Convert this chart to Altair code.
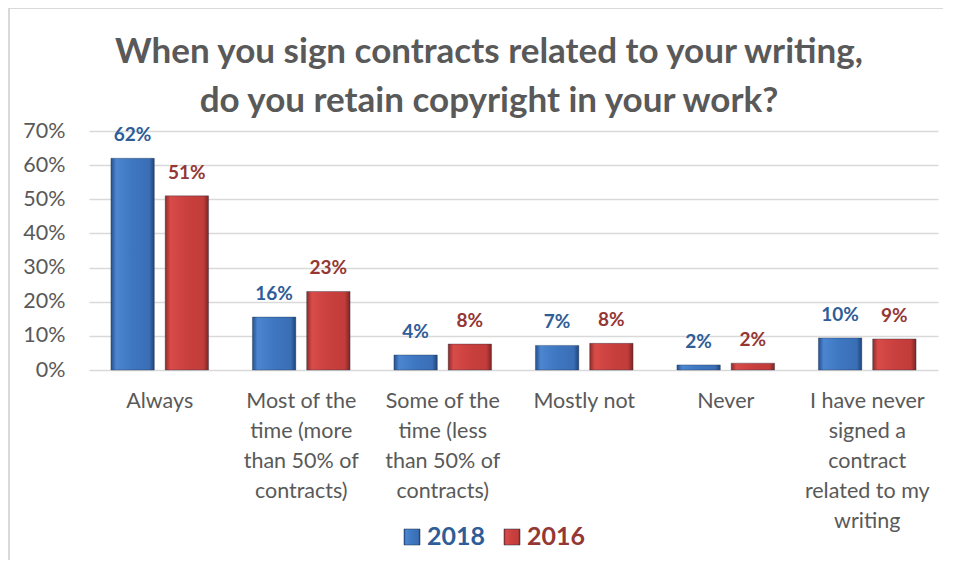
import json
import altair as alt
import pandas as pd

title_lines = [
    "When you sign contracts related to your writing,",
    "do you retain copyright in your work?",
]
categories = [
    "Always",
    "Most of the time (more than 50% of contracts)",
    "Some of the time (less than 50% of contracts)",
    "Mostly not",
    "Never",
    "I have never signed a contract related to my writing",
]
category_lines = [
    ["Always"],
    ["Most of the", "time (more", "than 50% of", "contracts)"],
    ["Some of the", "time (less", "than 50% of", "contracts)"],
    ["Mostly not"],
    ["Never"],
    ["I have never", "signed a", "contract", "related to my", "writing"],
]
series = ["2018", "2016"]
values_2018 = [0.62, 0.155, 0.044, 0.072, 0.015, 0.094]
values_2016 = [0.51, 0.23, 0.076, 0.078, 0.02, 0.091]
labels_2018 = ["62%", "16%", "4%", "7%", "2%", "10%"]
labels_2016 = ["51%", "23%", "8%", "8%", "2%", "9%"]
y_ticks = [0, 0.1, 0.2, 0.3, 0.4, 0.5, 0.6, 0.7]

rows = []
for s, vals, labs in [("2018", values_2018, labels_2018), ("2016", values_2016, labels_2016)]:
    for c, v, l in zip(categories, vals, labs):
        rows.append({"category": c, "series": s, "value": v, "label": l})
df = pd.DataFrame(rows)
legend_df = pd.DataFrame({"series": series})
border_df = pd.DataFrame({"a": [0]})
title_df = pd.DataFrame({"title": ["\n".join(title_lines)]})

GRAY = "#595959"
BLUE_TXT = "#2F5D98"
RED_TXT = "#943735"

blue_grad = {
    "gradient": "linear", "x1": 0, "y1": 0, "x2": 1, "y2": 0,
    "stops": [
        {"offset": 0, "color": "#24508C"},
        {"offset": 0.12, "color": "#4C86D0"},
        {"offset": 0.5, "color": "#3E76C0"},
        {"offset": 0.88, "color": "#3A6FB6"},
        {"offset": 1, "color": "#1F457A"},
    ],
}
red_grad = {
    "gradient": "linear", "x1": 0, "y1": 0, "x2": 1, "y2": 0,
    "stops": [
        {"offset": 0, "color": "#8E2B2A"},
        {"offset": 0.12, "color": "#D84B48"},
        {"offset": 0.5, "color": "#C9403E"},
        {"offset": 0.88, "color": "#C13C3A"},
        {"offset": 1, "color": "#7E2423"},
    ],
}

is2018 = "datum.series == '2018'"
label_map = json.dumps(dict(zip(categories, category_lines)))

x_enc = alt.X(
    "category:N",
    sort=categories,
    scale=alt.Scale(paddingInner=0.31, paddingOuter=0.155),
    axis=alt.Axis(
        title=None, labelAngle=0, labelFontSize=21.5, labelLineHeight=30,
        labelPadding=20, labelColor=GRAY, labelLimit=0, ticks=False,
        domain=False, labelOverlap=False, labelFont="Lato",
        labelExpr=f"{label_map}[datum.label]",
    ),
)
xo_enc = alt.XOffset("series:N", sort=series, scale=alt.Scale(paddingInner=0.2))
y_enc = alt.Y(
    "value:Q",
    scale=alt.Scale(domain=[0, 0.7], nice=False),
    axis=alt.Axis(
        title=None, values=y_ticks, format=".0%", labelFontSize=21.5,
        labelPadding=24, labelColor=GRAY, domain=False, ticks=False,
        gridColor="#D9D9D9", gridWidth=1.5, labelFont="Lato",
        labelOverlap=False,
    ),
)

bars = alt.Chart(df).mark_bar(stroke="#1c2f4a", strokeWidth=0.6, strokeOpacity=0.6).encode(
    x=x_enc,
    xOffset=xo_enc,
    y=y_enc,
    fill=alt.condition(is2018, alt.value(blue_grad), alt.value(red_grad)),
)

texts = alt.Chart(df).mark_text(
    dy=-23, baseline="middle", fontSize=19, fontWeight="bold", font="Lato"
).encode(
    x=x_enc,
    xOffset=xo_enc,
    y=y_enc,
    text="label:N",
    color=alt.condition(is2018, alt.value(BLUE_TXT), alt.value(RED_TXT)),
)

main = alt.layer(bars, texts)

leg_x = alt.X("series:N", sort=series,
              scale=alt.Scale(domain=series, range=[323, 423], padding=0), axis=None)
leg_sq = alt.Chart(legend_df).mark_square(size=256, opacity=1, stroke="#1c2f4a", strokeWidth=0.5).encode(
    x=leg_x,
    y=alt.value(406),
    fill=alt.condition(is2018, alt.value(blue_grad), alt.value(red_grad)),
)
leg_txt = alt.Chart(legend_df).mark_text(
    align="left", baseline="middle", dx=15, fontSize=25, fontWeight="bold", font="Lato"
).encode(
    x=leg_x,
    y=alt.value(406),
    text="series:N",
    color=alt.condition(is2018, alt.value(BLUE_TXT), alt.value(RED_TXT)),
)

title_mark = alt.Chart(title_df).mark_text(
    align="center", baseline="alphabetic", fontSize=35, fontWeight="bold",
    font="Lato", color=GRAY, lineBreak="\n", lineHeight=49,
).encode(x=alt.value(400), y=alt.value(-68), text="title:N")

border_left = alt.Chart(border_df).mark_rule(color="#D9D9D9", strokeWidth=2).encode(
    x=alt.value(-80), y=alt.value(-123), y2=alt.value(450)
)
border_top = alt.Chart(border_df).mark_rule(color="#D9D9D9", strokeWidth=2).encode(
    x=alt.value(-80), x2=alt.value(870), y=alt.value(-123)
)

chart = alt.layer(border_left, border_top, title_mark, main, leg_sq, leg_txt).resolve_scale(
    x="independent"
).properties(
    width=849,
    height=239,
    padding={"left": 81, "top": 123, "right": 5, "bottom": 190},
    autosize=alt.AutoSizeParams(type="none"),
).configure(background="white").configure_view(stroke=None)

chart.save("out.html", embed_options={"renderer": "svg", "actions": False})
